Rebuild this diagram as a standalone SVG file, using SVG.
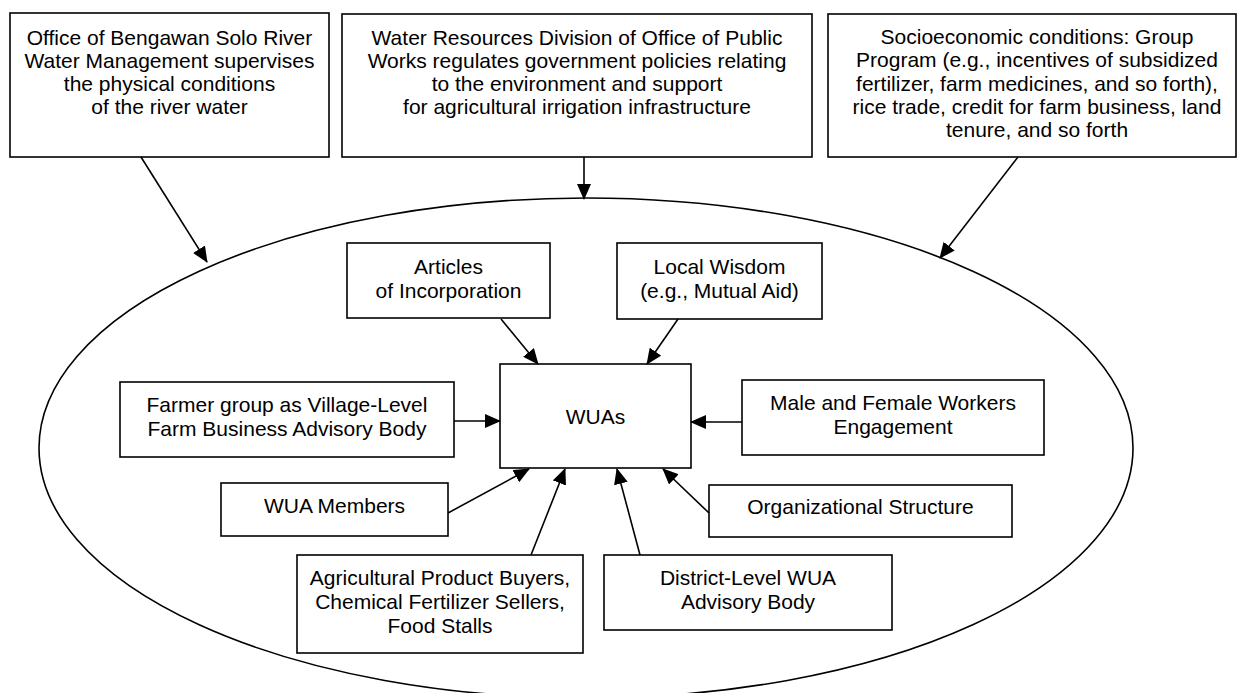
<svg xmlns="http://www.w3.org/2000/svg" width="1238" height="693" viewBox="0 0 1238 693">
<style>
.box{fill:#fff;stroke:#000;stroke-width:1.6}
.t{font-family:"Liberation Sans",Arial,sans-serif;font-size:21px;fill:#000;text-anchor:middle}
.c{stroke:#000;stroke-width:1.6;fill:none;marker-end:url(#ah)}
</style>
<defs>
<marker id="ah" markerUnits="userSpaceOnUse" markerWidth="16" markerHeight="14" viewBox="0 0 16 14" refX="15" refY="7" orient="auto">
<path d="M0,0 L16,7 L0,14 Z" fill="#000"/>
</marker>
</defs>
<rect width="1238" height="693" fill="#fff"/>
<ellipse id="scope" cx="586" cy="448" rx="547" ry="250" fill="none" stroke="#000" stroke-width="1.6"/>

<g id="n-office">
<rect class="box" x="10" y="13" width="319" height="144"/>
<text class="t" x="169.5"><tspan x="169.5" y="44.5">Office of Bengawan Solo River</tspan><tspan x="169.5" y="67.8">Water Management supervises</tspan><tspan x="169.5" y="91.1">the physical conditions</tspan><tspan x="169.5" y="114.4">of the river water</tspan></text>
</g>
<g id="n-water">
<rect class="box" x="342" y="14" width="470" height="143"/>
<text class="t"><tspan x="577" y="44.5">Water Resources Division of Office of Public</tspan><tspan x="577" y="67.8">Works regulates government policies relating</tspan><tspan x="577" y="91.1">to the environment and support</tspan><tspan x="577" y="114.4">for agricultural irrigation infrastructure</tspan></text>
</g>
<g id="n-socio">
<rect class="box" x="828" y="14" width="408" height="143"/>
<text class="t"><tspan x="1037" y="44">Socioeconomic conditions: Group</tspan><tspan x="1037" y="67.3">Program (e.g., incentives of subsidized</tspan><tspan x="1037" y="90.6">fertilizer, farm medicines, and so forth),</tspan><tspan x="1037" y="113.9">rice trade, credit for farm business, land</tspan><tspan x="1037" y="137.2">tenure, and so forth</tspan></text>
</g>
<g id="n-articles">
<rect class="box" x="347" y="243" width="203" height="75"/>
<text class="t"><tspan x="448.5" y="274">Articles</tspan><tspan x="448.5" y="298">of Incorporation</tspan></text>
</g>
<g id="n-local">
<rect class="box" x="617" y="243" width="205" height="76"/>
<text class="t"><tspan x="719.5" y="274">Local Wisdom</tspan><tspan x="719.5" y="298">(e.g., Mutual Aid)</tspan></text>
</g>
<g id="n-farmer">
<rect class="box" x="120" y="382" width="334" height="75"/>
<text class="t"><tspan x="287" y="412">Farmer group as Village-Level</tspan><tspan x="287" y="436">Farm Business Advisory Body</tspan></text>
</g>
<g id="n-wuas">
<rect class="box" x="500" y="364" width="191" height="104"/>
<text class="t" x="595.5" y="424">WUAs</text>
</g>
<g id="n-male">
<rect class="box" x="742" y="380" width="302" height="75"/>
<text class="t"><tspan x="893" y="410">Male and Female Workers</tspan><tspan x="893" y="434">Engagement</tspan></text>
</g>
<g id="n-members">
<rect class="box" x="221" y="483" width="227" height="53"/>
<text class="t" x="334.5" y="513">WUA Members</text>
</g>
<g id="n-org">
<rect class="box" x="709" y="485" width="303" height="52"/>
<text class="t" x="860.5" y="514">Organizational Structure</text>
</g>
<g id="n-agri">
<rect class="box" x="297" y="555" width="286" height="98"/>
<text class="t"><tspan x="440" y="585">Agricultural Product Buyers,</tspan><tspan x="440" y="609">Chemical Fertilizer Sellers,</tspan><tspan x="440" y="633">Food Stalls</tspan></text>
</g>
<g id="n-district">
<rect class="box" x="604" y="555" width="288" height="75"/>
<text class="t"><tspan x="748" y="585">District-Level WUA</tspan><tspan x="748" y="609">Advisory Body</tspan></text>
</g>

<g id="connectors">
<line class="c" x1="141" y1="157" x2="207" y2="262"/>
<line class="c" x1="584" y1="157" x2="584" y2="199"/>
<line class="c" x1="1018" y1="157" x2="940" y2="258"/>
<line class="c" x1="501" y1="319" x2="538" y2="364"/>
<line class="c" x1="678" y1="319" x2="647" y2="364"/>
<line class="c" x1="454" y1="421" x2="500" y2="421"/>
<line class="c" x1="742" y1="422" x2="691" y2="422"/>
<line class="c" x1="448" y1="513" x2="529" y2="469"/>
<line class="c" x1="531" y1="555" x2="565" y2="469"/>
<line class="c" x1="640" y1="555" x2="617" y2="469"/>
<line class="c" x1="709" y1="513" x2="663" y2="469"/>
</g>
</svg>
